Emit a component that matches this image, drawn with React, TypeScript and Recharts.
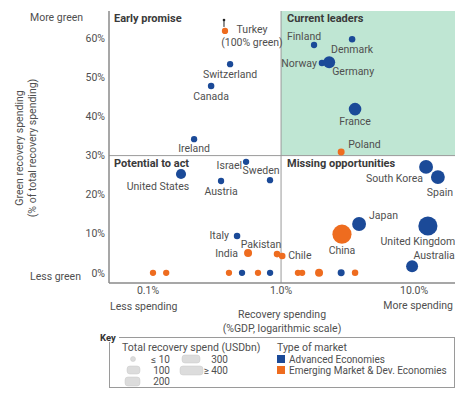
import React from "react";
import {
  ScatterChart,
  Scatter,
  XAxis,
  YAxis,
  ZAxis,
  ReferenceArea,
  ReferenceLine,
} from "recharts";

// values
const countries = [
  "Turkey", "Switzerland", "Canada", "Ireland", "Finland", "Denmark", "Norway",
  "Germany", "France", "Poland", "United States", "Israel", "Austria", "Sweden",
  "Italy", "India", "Pakistan", "Chile", "China", "Japan", "United Kingdom",
  "South Korea", "Spain", "Australia",
  // unlabelled economies on the 0% line
  "", "", "", "", "", "", "", "", "", "", "",
];
const recoverySpendPctGdp = [
  0.379, 0.414, 0.298, 0.222, 1.77, 3.42, 2.03,
  2.3, 3.6, 2.83, 0.177, 0.546, 0.354, 0.826,
  0.467, 0.565, 0.933, 1.02, 2.87, 3.86, 12.7,
  12.3, 15.1, 9.66,
  0.109, 0.137, 0.406, 0.509, 0.671, 0.827, 1.34, 1.44, 1.93, 2.83, 3.6,
];
const greenSharePct = [
  61.9, 53.4, 47.8, 34.2, 58.3, 59.8, 53.7,
  53.9, 41.9, 30.9, 25.3, 28.4, 23.5, 23.7,
  9.4, 5.1, 4.8, 4.3, 9.9, 12.5, 12.0,
  27.1, 24.5, 1.7,
  0, 0, 0, 0, 0, 0, 0, 0, 0, 0, 0,
];
const totalSpendBn = [
  5, 5, 8, 5, 5, 8, 8,
  130, 150, 16, 80, 5, 5, 5,
  8, 34, 10, 10, 400, 190, 400,
  190, 190, 130,
  5, 5, 5, 5, 5, 5, 5, 5, 34, 16, 8,
];
const marketType = [
  "EM", "AE", "AE", "AE", "AE", "AE", "AE",
  "AE", "AE", "EM", "AE", "AE", "AE", "AE",
  "AE", "EM", "EM", "EM", "EM", "AE", "AE",
  "AE", "AE", "AE",
  "EM", "EM", "EM", "AE", "EM", "AE", "EM", "EM", "EM", "AE", "EM",
];
const xTicks = [0.1, 1, 10];
const yTicks = [0, 10, 20, 30, 40, 50, 60];

const BLUE = "#1b4a98";
const ORANGE = "#ee6c1f";
const MINT = "#bfe6d3";
const TEXT = "#4f4f4f";
const FONT = "Roboto, 'Noto Sans', sans-serif";

const points = countries.map((name, i) => ({
  name,
  x: recoverySpendPctGdp[i],
  y: greenSharePct[i],
  z: totalSpendBn[i],
  type: marketType[i],
}));
const advanced = points.filter((p) => p.type === "AE");
const emerging = points.filter((p) => p.type === "EM");

// where each country name sits relative to its dot
const LABELS: Record<string, { dx: number; dy: number; anchor: "start" | "middle" | "end" }> = {
  Switzerland: { dx: 0, dy: 10, anchor: "middle" },
  Canada: { dx: 0, dy: 10, anchor: "middle" },
  Ireland: { dx: 0, dy: 9, anchor: "middle" },
  Finland: { dx: -10, dy: -9, anchor: "middle" },
  Denmark: { dx: 0, dy: 10, anchor: "middle" },
  Norway: { dx: -5, dy: 1, anchor: "end" },
  Germany: { dx: 3, dy: 9, anchor: "start" },
  France: { dx: 0, dy: 12, anchor: "middle" },
  Poland: { dx: 7, dy: -8, anchor: "start" },
  "United States": { dx: -23, dy: 13, anchor: "middle" },
  Israel: { dx: -4, dy: 4, anchor: "end" },
  Austria: { dx: 0, dy: 10, anchor: "middle" },
  Sweden: { dx: -9, dy: -10, anchor: "middle" },
  Italy: { dx: -8, dy: -1, anchor: "end" },
  India: { dx: -10, dy: 1, anchor: "end" },
  Pakistan: { dx: -16, dy: -10, anchor: "middle" },
  Chile: { dx: 6, dy: -1, anchor: "start" },
  China: { dx: 0, dy: 16, anchor: "middle" },
  Japan: { dx: 10, dy: -8, anchor: "start" },
  "United Kingdom": { dx: -10, dy: 16, anchor: "middle" },
  "South Korea": { dx: -3, dy: 12, anchor: "end" },
  Spain: { dx: 2, dy: 15, anchor: "middle" },
  Australia: { dx: 22, dy: -11, anchor: "middle" },
};

const labelStyle = { fontFamily: FONT, fontSize: 10.5, fill: TEXT };

const Dot = (props: any) => {
  const { cx, cy, fill, payload } = props;
  if (cx == null || cy == null) return null;
  const r = props.width ? props.width / 2 : Math.sqrt((props.size ?? 28) / Math.PI);
  const name: string = payload?.name ?? "";
  const lab = LABELS[name];
  return (
    <g>
      {name === "Turkey" && (
        <g>
          <line x1={cx - 1} y1={cy - 11} x2={cx - 1} y2={cy - 4} stroke="#222" strokeWidth={1} />
          <circle cx={cx - 1} cy={cy - 11} r={1.3} fill="#222" />
        </g>
      )}
      <circle cx={cx} cy={cy} r={r} fill={fill} />
      {lab && (
        <text x={cx + lab.dx} y={cy + lab.dy} textAnchor={lab.anchor} dominantBaseline="central" {...labelStyle}>
          {name}
        </text>
      )}
      {name === "Turkey" && (
        <g>
          <text x={cx + 27} y={cy - 1} textAnchor="middle" dominantBaseline="central" {...labelStyle}>
            Turkey
          </text>
          <text x={cx + 27} y={cy + 12} textAnchor="middle" dominantBaseline="central" {...labelStyle}>
            (100% green)
          </text>
        </g>
      )}
    </g>
  );
};

const t = (x: number, y: number, s: string, opts: any = {}) => (
  <text
    x={x}
    y={y}
    dominantBaseline="central"
    fontFamily={FONT}
    fontSize={opts.size ?? 10.5}
    fontWeight={opts.bold ? 700 : 400}
    fill={opts.fill ?? TEXT}
    textAnchor={opts.anchor ?? "start"}
  >
    {s}
  </text>
);

export default function App() {
  return (
    <div style={{ position: "absolute", left: 0, top: 0, width: 468, height: 396, background: "#fff" }}>
      <ScatterChart
        width={468}
        height={396}
        margin={{ top: 11, right: 13, bottom: 93, left: 49 }}
      >
        <XAxis
          type="number"
          dataKey="x"
          scale="log"
          domain={[0.0509, 20.3]}
          ticks={xTicks}
          allowDataOverflow
          height={20}
          tickLine={false}
          tickSize={4}
          tickMargin={0}
          tickFormatter={(v: number) => `${v.toFixed(1)}%`}
          tick={{ fontFamily: FONT, fontSize: 10.5, fill: TEXT }}
          axisLine={{ stroke: "#8a8a8a", strokeWidth: 1.5 }}
        />
        <YAxis
          type="number"
          dataKey="y"
          domain={[-2.6, 67]}
          ticks={yTicks}
          allowDataOverflow
          width={60}
          tickLine={false}
          tickSize={4}
          tickMargin={0}
          tickFormatter={(v: number) => `${v}%`}
          tick={{ fontFamily: FONT, fontSize: 10.5, fill: TEXT }}
          axisLine={{ stroke: "#8a8a8a", strokeWidth: 1.5 }}
        />
        <ZAxis type="number" dataKey="z" domain={[0, 450]} range={[28, 320]} />
        <ReferenceArea x1={1} x2={20.3} y1={30} y2={67} fill={MINT} fillOpacity={1} stroke="none" />
        <ReferenceLine x={1} stroke="#9a9a9a" strokeWidth={1} />
        <ReferenceLine y={30} stroke="#9a9a9a" strokeWidth={1} />
        <Scatter data={emerging} fill={ORANGE} shape={<Dot />} isAnimationActive={false} />
        <Scatter data={advanced} fill={BLUE} shape={<Dot />} isAnimationActive={false} />
      </ScatterChart>

      <svg
        width={468}
        height={396}
        style={{ position: "absolute", left: 0, top: 0, pointerEvents: "none" }}
      >
        {/* quadrant titles */}
        {t(114, 18, "Early promise", { bold: true, size: 11, fill: "#3a3a3a" })}
        {t(287, 18, "Current leaders", { bold: true, size: 11, fill: "#3a3a3a" })}
        {t(114, 163, "Potential to act", { bold: true, size: 11, fill: "#3a3a3a" })}
        {t(287, 163, "Missing opportunities", { bold: true, size: 11, fill: "#3a3a3a" })}

        {/* y axis annotations */}
        {t(30, 17, "More green")}
        {t(30, 276, "Less green")}
        <g transform="translate(19,148) rotate(-90)">
          {t(0, 0, "Green recovery spending", { anchor: "middle" })}
        </g>
        <g transform="translate(32,148) rotate(-90)">
          {t(0, 0, "(% of total recovery spending)", { anchor: "middle" })}
        </g>

        {/* x axis annotations */}
        {t(110, 306, "Less spending")}
        {t(453, 305, "More spending", { anchor: "end" })}
        {t(282, 314, "Recovery spending", { anchor: "middle" })}
        {t(282, 328, "(%GDP, logarithmic scale)", { anchor: "middle" })}

        {/* key */}
        <rect x={109.5} y={337.5} width={345} height={50} fill="none" stroke="#9a9a9a" strokeWidth={1} />
        <rect x={98} y={332} width={21} height={10} fill="#fff" />
        {t(100, 337, "Key", { bold: true, size: 9.5, fill: "#333" })}
        {t(122, 347, "Total recovery spend (USDbn)")}
        <circle cx={133} cy={359} r={2.5} fill="#dcdcdc" stroke="#c8c8c8" strokeWidth={0.5} />
        {t(170, 359, "\u2264 10", { anchor: "end", size: 10 })}
        <rect x={127} y={366} width={13} height={8} rx={3} fill="#dcdcdc" stroke="#c8c8c8" strokeWidth={0.5} />
        {t(170, 370, "100", { anchor: "end", size: 10 })}
        <rect x={125} y={377} width={15} height={9} rx={3} fill="#dcdcdc" stroke="#c8c8c8" strokeWidth={0.5} />
        {t(170, 381, "200", { anchor: "end", size: 10 })}
        <rect x={182} y={355} width={18} height={8} rx={3} fill="#dcdcdc" stroke="#c8c8c8" strokeWidth={0.5} />
        {t(228, 359, "300", { anchor: "end", size: 10 })}
        <rect x={180} y={366} width={23} height={9} rx={3} fill="#dcdcdc" stroke="#c8c8c8" strokeWidth={0.5} />
        {t(228, 370, "\u2265 400", { anchor: "end", size: 10 })}

        {t(277, 347, "Type of market")}
        <rect x={277} y={355} width={8} height={8} fill={BLUE} />
        {t(289, 359, "Advanced Economies", { size: 10 })}
        <rect x={277} y={366} width={8} height={8} fill={ORANGE} />
        {t(289, 370, "Emerging Market & Dev. Economies", { size: 10 })}
      </svg>
    </div>
  );
}
